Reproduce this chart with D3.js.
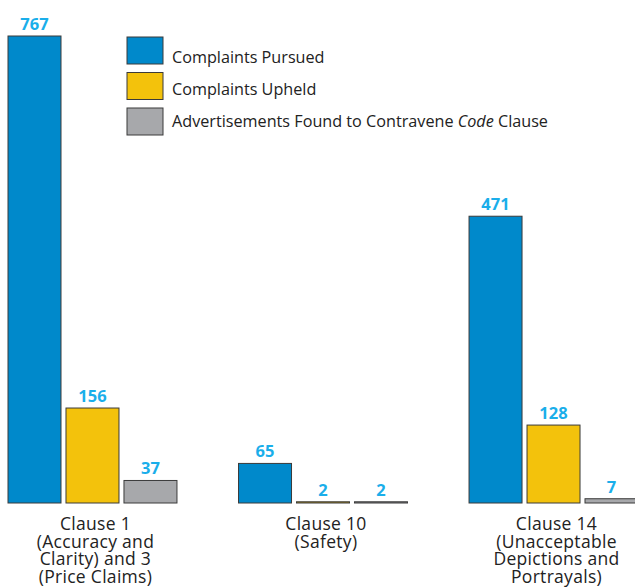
<!DOCTYPE html>
<html>
<head>
<meta charset="utf-8">
<script src="https://cdnjs.cloudflare.com/ajax/libs/d3/7.8.5/d3.min.js"></script>
<style>
  html, body { margin: 0; padding: 0; background: #fff; }
  svg { display: block; }
</style>
</head>
<body>
<svg id="chart" width="635" height="587"></svg>
<script>
// Complaint outcomes by Code clause
const categories = ["Clause 1", "Clause 10", "Clause 14"];
const categoryLines = [
  ["Clause 1", "(Accuracy and", "Clarity) and 3", "(Price Claims)"],
  ["Clause 10", "(Safety)"],
  ["Clause 14", "(Unacceptable", "Depictions and", "Portrayals)"]
];
const seriesNames = ["Complaints Pursued", "Complaints Upheld", "Advertisements Found to Contravene Code Clause"];
const pursued = [767, 65, 471];
const upheld = [156, 2, 128];
const contravened = [37, 2, 7];
const seriesColors = ["#0089cb", "#f3c20c", "#a7a8ab"];

const series = [pursued, upheld, contravened];

const svg = d3.select("#chart");
const fontFamily = "'Open Sans', Lato, sans-serif";

const x0 = d3.scaleBand().domain(categories).range([8, 638]).paddingInner(0.267).paddingOuter(0);
const x1 = d3.scaleBand().domain(d3.range(series.length)).range([0, x0.bandwidth()]).paddingInner(0.086).paddingOuter(0);
const y = d3.scaleLinear().domain([0, 767]).range([503, 36]);

const groups = svg.append("g").selectAll("g")
  .data(categories)
  .join("g")
  .attr("transform", d => `translate(${x0(d)},0)`);

groups.each(function(cat, ci) {
  const g = d3.select(this);
  series.forEach((vals, si) => {
    const v = vals[ci];
    g.append("rect")
      .attr("x", x1(si))
      .attr("y", y(v))
      .attr("width", x1.bandwidth())
      .attr("height", y(0) - y(v))
      .attr("fill", seriesColors[si])
      .attr("stroke", "#3a3a3a")
      .attr("stroke-width", 1);
    g.append("text")
      .attr("x", x1(si) + x1.bandwidth() / 2)
      .attr("y", y(v) - 6)
      .attr("text-anchor", "middle")
      .attr("font-family", fontFamily)
      .attr("font-weight", "bold")
      .attr("font-size", 16.5)
      .attr("fill", "#1aaeea")
      .text(v);
  });
});

// Category labels below the baseline
categories.forEach((cat, ci) => {
  const cx = x0(cat) + x0.bandwidth() / 2 + 3;
  const t = svg.append("text")
    .attr("text-anchor", "middle")
    .attr("font-family", fontFamily)
    .attr("font-size", 17.5)
    .attr("letter-spacing", 0.3)
    .attr("fill", "#222");
  categoryLines[ci].forEach((line, li) => {
    t.append("tspan").attr("x", cx).attr("y", 530 + li * 17.7).text(line);
  });
});

// Legend
const legend = svg.append("g").attr("transform", "translate(127,37)");
seriesNames.forEach((name, i) => {
  legend.append("rect")
    .attr("y", i * 35.5)
    .attr("width", 36).attr("height", 27)
    .attr("fill", seriesColors[i])
    .attr("stroke", "#3a3a3a").attr("stroke-width", 1);
  const label = legend.append("text")
    .attr("x", 45).attr("y", 26 + i * 32)
    .attr("font-family", fontFamily)
    .attr("font-size", 16.2)
    .attr("fill", "#222");
  if (i === 2) {
    label.append("tspan").text("Advertisements Found to Contravene ");
    label.append("tspan").attr("font-style", "italic").text("Code");
    label.append("tspan").text(" Clause");
  } else {
    label.text(name);
  }
});
</script>
</body>
</html>
